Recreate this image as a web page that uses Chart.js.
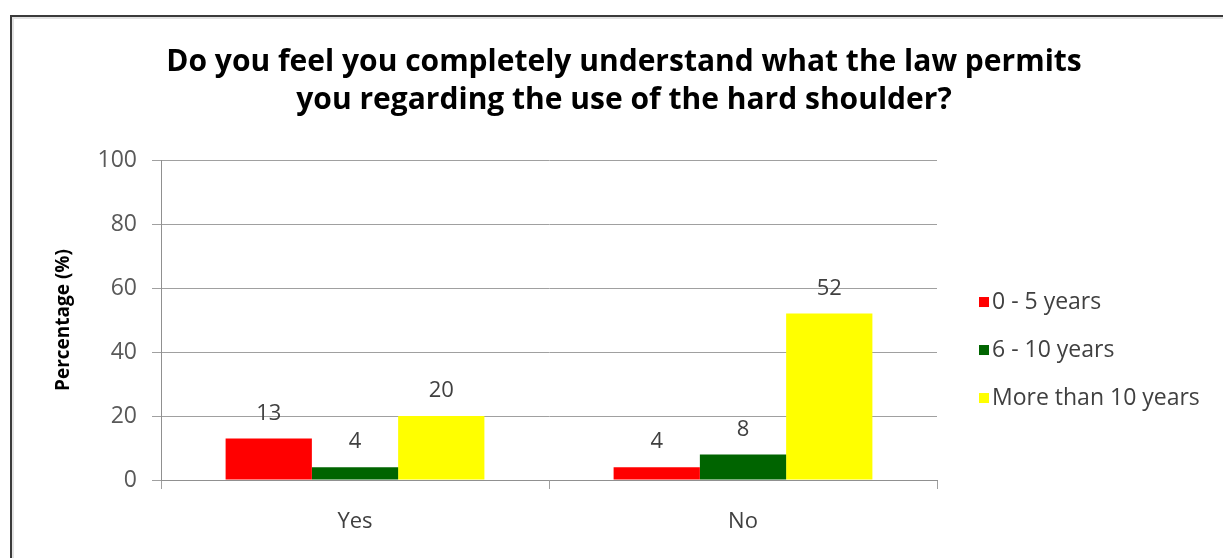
<!DOCTYPE html>
<html>
<head>
<meta charset="utf-8">
<script src="https://cdn.jsdelivr.net/npm/chart.js@4"></script>
<style>
  html, body { margin: 0; padding: 0; background: #fff; }
  body { width: 1223px; height: 558px; overflow: hidden; position: relative; }
  .frame {
    position: absolute; left: 10px; top: 15px;
    border-left: 2px solid #3a3a3a; border-top: 2px solid #3a3a3a;
    box-shadow: inset 2px 2px 0 #e2e2e2;
    width: 1211px; height: 541px;
  }
  canvas { display: block; }
</style>
</head>
<body>
<div class="frame"><canvas id="chart" width="1211" height="541"></canvas></div>
<script>
// Data
const categories = ['Yes', 'No'];
const seriesNames = ['0 - 5 years', '6 - 10 years', 'More than 10 years'];
const youngDrivers = [13, 4];
const midDrivers = [4, 8];
const seniorDrivers = [20, 52];
const yTicks = [0, 20, 40, 60, 80, 100];

const colors = ['#ff0000', '#006400', '#ffff00'];
const FONT = '"Open Sans", Lato, sans-serif';

// Value labels above each bar
const barLabels = {
  id: 'barLabels',
  afterDatasetsDraw(chart) {
    const { ctx } = chart;
    ctx.save();
    ctx.font = `22px ${FONT}`;
    ctx.fillStyle = '#404040';
    ctx.textAlign = 'center';
    ctx.textBaseline = 'middle';
    chart.data.datasets.forEach((ds, i) => {
      chart.getDatasetMeta(i).data.forEach((bar, j) => {
        ctx.fillText(String(ds.data[j]), bar.x, bar.y - 25);
      });
    });
    ctx.restore();
  },
};

// Legend on the right, square markers
const sideLegend = {
  id: 'sideLegend',
  afterDraw(chart) {
    const { ctx, chartArea } = chart;
    const x = chartArea.right + 42;
    ctx.save();
    ctx.font = `23px ${FONT}`;
    ctx.textBaseline = 'middle';
    ctx.textAlign = 'left';
    chart.data.datasets.forEach((ds, i) => {
      const y = chartArea.top + 142 + i * 48;
      ctx.fillStyle = ds.backgroundColor;
      ctx.fillRect(x, y - 5, 10, 10);
      ctx.fillStyle = '#404040';
      ctx.fillText(ds.label, x + 13, y);
    });
    ctx.restore();
  },
};

const ctx = document.getElementById('chart');
new Chart(ctx, {
  type: 'bar',
  data: {
    labels: categories,
    datasets: [youngDrivers, midDrivers, seniorDrivers].map((data, i) => ({
      label: seriesNames[i],
      data,
      backgroundColor: colors[i],
      borderWidth: 0,
      categoryPercentage: 0.667,
      barPercentage: 1,
    })),
  },
  options: {
    responsive: false,
    animation: false,
    layout: { padding: { left: 13, right: 0, top: 0, bottom: 0 } },
    scales: {
      y: {
        min: 0,
        max: 100,
        afterBuildTicks: (scale) => { scale.ticks = yTicks.map((v) => ({ value: v })); },
        afterFit: (scale) => { scale.width = 136; },
        grid: { color: '#a0a0a0', tickLength: 9, lineWidth: 1 },
        border: { color: '#909090' },
        ticks: { color: '#595959', padding: 15, font: { family: FONT, size: 23 } },
        title: {
          display: true,
          text: 'Percentage (%)',
          color: '#000',
          padding: { top: 27, bottom: 0 },
          font: { family: FONT, size: 19, weight: 'bold' },
        },
      },
      spacer: {
        position: 'right',
        min: 0,
        max: 100,
        afterFit: (scale) => { scale.width = 286; },
        grid: { display: false },
        border: { display: false },
        ticks: { display: false },
      },
      x: {
        afterFit: (scale) => { scale.height = 78; },
        grid: { offset: true, drawOnChartArea: false, color: '#a0a0a0', tickLength: 9 },
        border: { color: '#909090' },
        ticks: { color: '#404040', padding: 20, font: { family: FONT, size: 22 } },
      },
    },
    plugins: {
      legend: { display: false },
      tooltip: { enabled: false },
      title: {
        display: true,
        text: ['Do you feel you completely understand what the law permits', 'you regarding the use of the hard shoulder?'],
        color: '#000',
        padding: { top: 26, bottom: 41 },
        font: { family: FONT, size: 30, weight: 'bold', lineHeight: 1.267 },
      },
    },
  },
  plugins: [barLabels, sideLegend],
});
</script>
</body>
</html>
